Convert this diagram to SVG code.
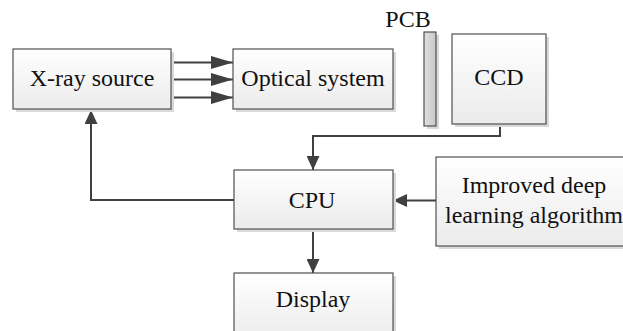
<svg xmlns="http://www.w3.org/2000/svg" width="623" height="331" viewBox="0 0 623 331">
<style>
.box{fill:url(#g);stroke:#505050;stroke-width:1.2}
.sh{fill:#d9d9d9}
.t{font-family:'Times New Roman','Liberation Serif','DejaVu Serif',serif;font-size:24px;fill:#111;text-anchor:middle}
.c{fill:none;stroke:#404040;stroke-width:2}
</style>
<defs>
<linearGradient id="g" x1="0" y1="0" x2="0" y2="1"><stop offset="0" stop-color="#ffffff"/><stop offset="1" stop-color="#ebebeb"/></linearGradient>
<linearGradient id="pg" x1="0" y1="0" x2="1" y2="0"><stop offset="0" stop-color="#e0e0e0"/><stop offset="1" stop-color="#c8c8c8"/></linearGradient>
<marker id="a" markerUnits="userSpaceOnUse" markerWidth="14" markerHeight="13" refX="14" refY="6.5" orient="auto"><path d="M0,0 L14,6.5 L0,13 z" fill="#404040"/></marker>
<marker id="b" markerUnits="userSpaceOnUse" markerWidth="22" markerHeight="13" refX="22" refY="6.5" orient="auto"><path d="M0,0 L22,6.5 L0,13 z" fill="#404040"/></marker>
</defs>
<rect width="623" height="331" fill="#fff"/>
<g id="connectors">
<line class="c" x1="171" y1="62.5" x2="233" y2="62.5" marker-end="url(#b)"/>
<line class="c" x1="171" y1="79.5" x2="233" y2="79.5" marker-end="url(#b)"/>
<line class="c" x1="171" y1="97.5" x2="233" y2="97.5" marker-end="url(#b)"/>
<polyline class="c" points="500,124 500,136 313,136 313,170" marker-end="url(#a)"/>
<polyline class="c" points="234,200 91,200 91,110" marker-end="url(#a)"/>
<line class="c" x1="436" y1="200.5" x2="393" y2="200.5" marker-end="url(#a)"/>
<line class="c" x1="313" y1="229" x2="313" y2="273" marker-end="url(#a)"/>
</g>
<g id="xray">
<rect class="sh" x="16" y="52" width="158" height="60"/>
<rect class="box" x="13" y="49" width="158" height="60"/>
<text class="t" x="92" y="86" font-family="Liberation Serif, serif">X-ray source</text>
</g>
<g id="optical">
<rect class="sh" x="236" y="52" width="160" height="60"/>
<rect class="box" x="233" y="49" width="160" height="60"/>
<text class="t" x="313" y="86">Optical system</text>
</g>
<g id="pcb">
<rect class="sh" x="427" y="35" width="12" height="94"/>
<rect x="424" y="32" width="12" height="94" fill="url(#pg)" stroke="#505050" stroke-width="1.2"/>
<text class="t" x="408" y="27">PCB</text>
</g>
<g id="ccd">
<rect class="sh" x="455" y="37" width="94" height="90"/>
<rect class="box" x="452" y="34" width="94" height="90"/>
<text class="t" x="499" y="85">CCD</text>
</g>
<g id="cpu">
<rect class="sh" x="237" y="173" width="159" height="59"/>
<rect class="box" x="234" y="170" width="159" height="59"/>
<text class="t" x="312" y="208">CPU</text>
</g>
<g id="algorithm">
<rect class="sh" x="439" y="160" width="200" height="89"/>
<rect class="box" x="436" y="157" width="200" height="89"/>
<text class="t" x="534" y="193">Improved deep</text>
<text class="t" x="534" y="222.5">learning algorithm</text>
</g>
<g id="display">
<rect class="sh" x="237" y="276" width="159" height="70"/>
<rect class="box" x="234" y="273" width="159" height="70"/>
<text class="t" x="313" y="307">Display</text>
</g>
</svg>
